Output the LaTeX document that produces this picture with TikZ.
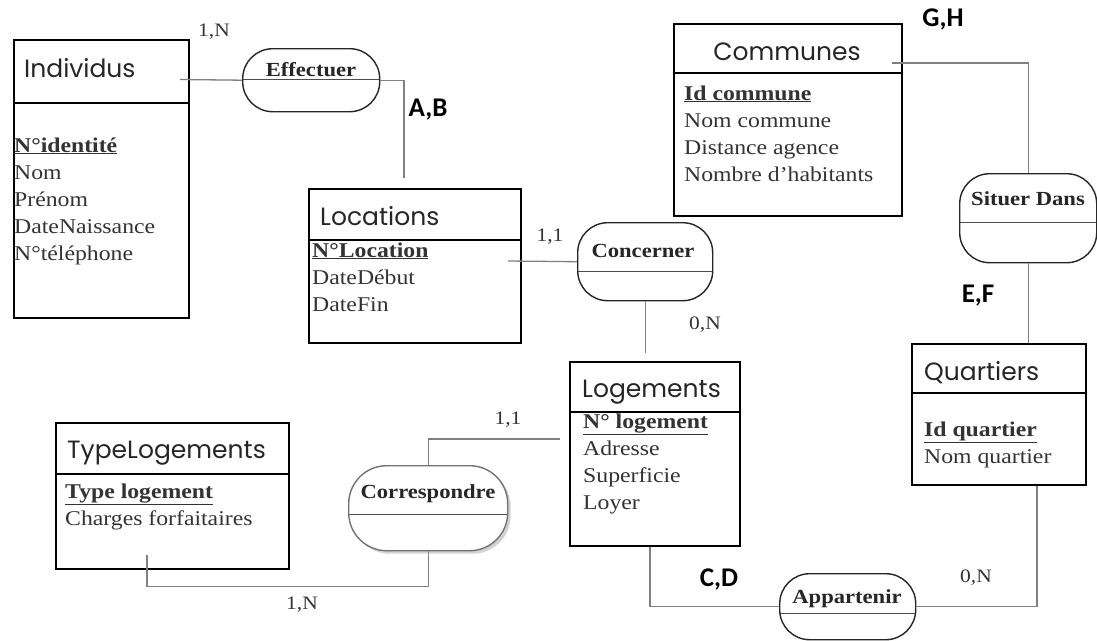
\documentclass[tikz,border=0pt]{standalone}
\usepackage{fontspec}
\setmainfont{Liberation Serif}[FakeStretch=1.13]
\newfontfamily\titlefont{Poppins}
\newfontfamily\tagfont{Carlito}
\usetikzlibrary{calc,shadows}
\newcommand\attrlines[1]{\begin{tabular}[t]{@{}l@{}}#1\end{tabular}}
\newcommand\pkey[1]{\underline{\textbf{#1}}}
\begin{document}
\begin{tikzpicture}[x=1pt,y=-1pt,
  entity/.style={draw=black,line width=2.2pt,anchor=north west,inner sep=0pt},
  hsep/.style={line width=2.2pt},
  relbox/.style={draw=black!85,line width=1.4pt,rounded corners=30pt,anchor=north west,inner sep=0pt,
    path picture={\draw[draw=black!70,line width=1.2pt] ($(path picture bounding box.north west)+(0,#1)$) -- ($(path picture bounding box.north east)+(0,#1)$);}},
  conn/.style={draw=black!50,line width=1.3pt},
  etitle/.style={font=\titlefont\fontsize{25}{28}\selectfont,text=black!85,anchor=base west,inner sep=0pt},
  attrs/.style={font=\fontsize{21}{27}\selectfont,text=black!80,anchor=base west,inner sep=0pt},
  relname/.style={font=\bfseries\fontsize{20}{24}\selectfont,text=black!85,anchor=base,inner sep=0pt},
  card/.style={font=\fontsize{19}{22}\selectfont,text=black!80,inner sep=0pt},
  tag/.style={font=\tagfont\bfseries\fontsize{27}{30}\selectfont,inner sep=0pt}]

\fill[white] (0,0) rectangle (1097,640);
\useasboundingbox (0,0) rectangle (1097,640);

% ---------- entities ----------
\node[entity,minimum width=175pt,minimum height=278pt] (indiv) at (13,39) {};
\draw[hsep] (13,103) -- (188,103);
\node[etitle] (indivT) at (24,77) {Individus};
\node[attrs] (indivA) at (14,152) {\attrlines{\pkey{N°identité}\\Nom\\Prénom\\DateNaissance\\N°téléphone}};

\node[entity,minimum width=212pt,minimum height=154pt] (loc) at (308,188) {};
\draw[hsep] (308,240) -- (520,240);
\node[etitle] (locT) at (320,225) {Locations};
\node[attrs] (locA) at (312,257) {\attrlines{\pkey{N°Location}\\DateDébut\\DateFin}};

\node[entity,minimum width=228pt,minimum height=192pt] (comm) at (673,23) {};
\draw[hsep] (673,73) -- (901,73);
\node[etitle,anchor=base] (commT) at (787,60) {Communes};
\node[attrs] (commA) at (684,100) {\attrlines{\pkey{Id commune}\\Nom commune\\Distance agence\\Nombre d'habitants}};

\node[entity,minimum width=170pt,minimum height=184pt] (logt) at (569,361) {};
\draw[hsep] (569,412) -- (739,412);
\node[etitle] (logtT) at (582,397) {Logements};
\node[attrs] (logtA) at (583,428) {\attrlines{\pkey{N° logement}\\Adresse\\Superficie\\Loyer}};

\node[entity,minimum width=174pt,minimum height=141pt] (quart) at (911,343) {};
\draw[hsep] (911,393) -- (1085,393);
\node[etitle] (quartT) at (924,380) {Quartiers};
\node[attrs] (quartA) at (924,436) {\attrlines{\pkey{Id quartier}\\Nom quartier}};

\node[entity,minimum width=233pt,minimum height=146pt] (typl) at (55,422) {};
\draw[hsep] (55,474) -- (288,474);
\node[etitle] (typlT) at (67,458) {TypeLogements};
\node[attrs] (typlA) at (65,498) {\attrlines{\pkey{Type logement}\\Charges forfaitaires}};

% ---------- relationships ----------
\node[relbox=31,minimum width=137pt,minimum height=63pt] (effect) at (242,48) {};
\node[relname] (effectT) at (311,76) {Effectuer};

\node[relbox=49,minimum width=135pt,minimum height=78pt] (concern) at (577,222) {};
\node[relname] (concernT) at (643,257) {Concerner};

\node[relbox=49,minimum width=137pt,minimum height=89pt] (situer) at (959,173) {};
\node[relname] (situerT) at (1028,205) {Situer Dans};

\node[relbox=49,rounded corners=38pt,minimum width=159pt,minimum height=85pt,draw=black!55,fill=white,
      drop shadow={shadow xshift=3pt,shadow yshift=-3pt,fill=black!35}] (corresp) at (348,465) {};
\node[relname] (correspT) at (428,498) {Correspondre};

\node[relbox=40,minimum width=136pt,minimum height=66pt] (appart) at (779,573) {};
\node[relname] (appartT) at (847,603) {Appartenir};

% ---------- connectors ----------
\draw[conn] ($(indiv.north east)+(-10,40.5)$) -- (effect.west);
\draw[conn] (effect.east) -| ($(loc.north west)+(96,-10)$);
\draw[conn] ($(loc.north east)+(-14,73)$) -- (concern.west);
\draw[conn] (concern.south) -- ($(concern.south |- logt.north)+(0,-8)$);
\draw[conn] ($(comm.north east)+(-11,40)$) -| (situer.north);
\draw[conn] (situer.south) -- (situer.south |- quart.north);
\draw[conn] ($(logt.north west)+(-9,78)$) -| (corresp.north);
\draw[conn] (corresp.south) -- ++(0,35) -| ($(typl.south west)+(92,-15)$);
\draw[conn] ($(logt.south west)+(81,0)$) |- (appart.west);
\draw[conn] (appart.east) -| ($(quart.south west)+(126,0)$);

% ---------- labels ----------
\node[card] (c1) at (214,32) {1,N};
\node[tag] (t1) at (428,110) {A,B};
\node[card] (c2) at (550,237) {1,1};
\node[card] (c3) at (705,325) {0,N};
\node[tag] (t2) at (943,19) {G,H};
\node[tag] (t3) at (978,296) {E,F};
\node[card] (c4) at (508,420) {1,1};
\node[card] (c5) at (302,605) {1,N};
\node[tag] (t4) at (719,579) {C,D};
\node[card] (c6) at (976,578) {0,N};
\end{tikzpicture}
\end{document}
